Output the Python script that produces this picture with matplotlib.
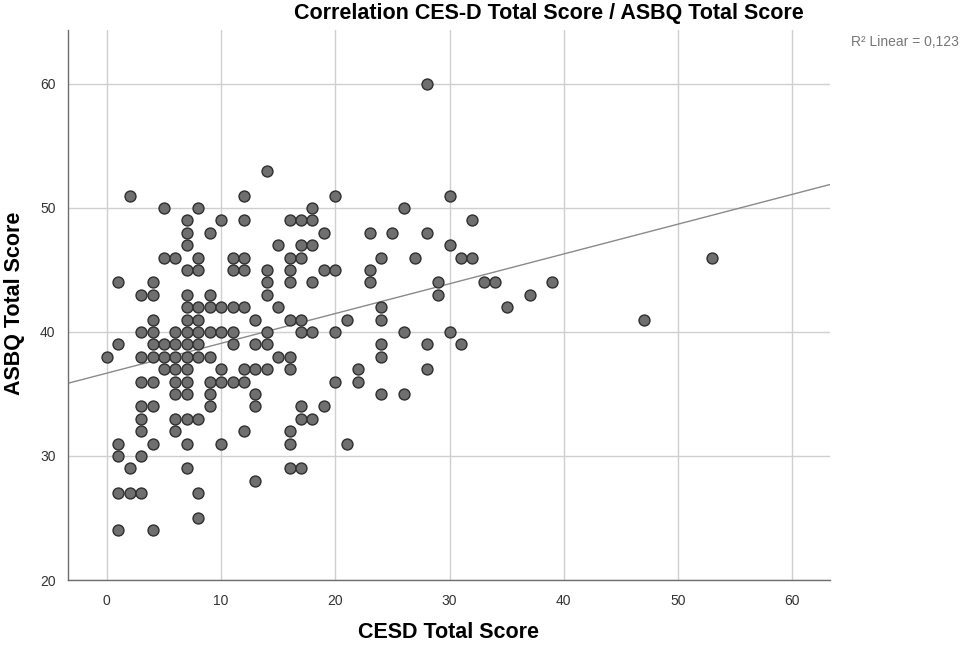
import numpy as np
import matplotlib
matplotlib.use("Agg")
import matplotlib.pyplot as plt

# CES-D total score -> list of ASBQ total scores observed at that score
cesd_groups = {
    0: [38],
    1: [44, 39, 31, 30, 27, 24],
    2: [51, 29, 27],
    3: [43, 40, 38, 36, 34, 33, 32, 30, 27],
    4: [44, 43, 41, 40, 39, 38, 36, 34, 31, 24],
    5: [50, 46, 39, 38, 37],
    6: [46, 40, 39, 38, 37, 36, 35, 33, 32],
    7: [49, 48, 47, 45, 43, 42, 41, 40, 39, 38, 37, 36, 35, 33, 31, 29],
    8: [50, 46, 45, 42, 41, 40, 39, 38, 33, 27, 25],
    9: [48, 43, 42, 40, 38, 36, 35, 34],
    10: [49, 42, 40, 37, 36, 31],
    11: [46, 45, 42, 40, 39, 36],
    12: [51, 49, 46, 45, 42, 37, 36, 32],
    13: [41, 39, 37, 35, 34, 28],
    14: [53, 45, 44, 43, 40, 39, 37],
    15: [47, 42, 38],
    16: [49, 46, 45, 44, 41, 38, 37, 32, 31, 29],
    17: [49, 47, 46, 41, 40, 34, 33, 29],
    18: [50, 49, 47, 44, 40, 33],
    19: [48, 45, 34],
    20: [51, 45, 40, 36],
    21: [41, 31],
    22: [37, 36],
    23: [48, 45, 44],
    24: [46, 42, 41, 39, 38, 35],
    25: [48],
    26: [50, 40, 35],
    27: [46],
    28: [60, 48, 39, 37],
    29: [44, 43],
    30: [51, 47, 40],
    31: [46, 39],
    32: [49, 46],
    33: [44],
    34: [44],
    35: [42],
    37: [43],
    39: [44],
    47: [41],
    53: [46],
}

cesd = np.array([k for k, vals in cesd_groups.items() for _ in vals], dtype=float)
asbq = np.array([v for vals in cesd_groups.values() for v in vals], dtype=float)

x_ticks = [0, 10, 20, 30, 40, 50, 60]
y_ticks = [20, 30, 40, 50, 60]
r2_label = "R\u00b2 Linear = 0,123"

font = ["Liberation Sans", "DejaVu Sans"]

fig = plt.figure(figsize=(9.61, 6.46), dpi=100)
ax = fig.add_axes([68 / 961, 1 - 580 / 646, (830 - 68) / 961, (580 - 30) / 646])

ax.set_xlim(-3.4, 63.3)
ax.set_ylim(20, 64.35)
ax.set_xticks(x_ticks)
ax.set_yticks(y_ticks)
ax.grid(True, color="#cfcfcf", linewidth=1.0)
ax.set_axisbelow(True)

for side in ("top", "right"):
    ax.spines[side].set_visible(False)
for side in ("left", "bottom"):
    ax.spines[side].set_color("#6e6e6e")
    ax.spines[side].set_linewidth(1.0)

ax.tick_params(length=0, labelsize=10, colors="#333333")
ax.tick_params(axis="x", pad=10)
ax.tick_params(axis="y", pad=9)
for lbl in ax.get_xticklabels() + ax.get_yticklabels():
    lbl.set_family(font)

# Least-squares fit line across the full axis width
slope, intercept = np.polyfit(cesd, asbq, 1)
xs = np.array(ax.get_xlim())
ax.plot(xs, intercept + slope * xs, color="#8a8a8a", linewidth=1.0, zorder=2)

ax.scatter(cesd, asbq, s=62, facecolor="#6f6f6f", edgecolor="#2f2f2f",
           linewidth=1.0, zorder=3)

fig.text(449 / 961, 1 - 633 / 646, "CESD Total Score", ha="center", va="center",
         fontsize=15.5, fontweight="bold", family=font)
fig.text(15 / 961, 1 - 303 / 646, "ASBQ Total Score", ha="center", va="center",
         rotation=90, fontsize=15.5, fontweight="bold", family=font)

fig.text(549 / 961, 1 - 13 / 646, "Correlation CES-D Total Score / ASBQ Total Score",
         ha="center", va="center", fontsize=15.5, fontweight="bold", family=font)
fig.text(959 / 961, 1 - 42 / 646, r2_label, ha="right", va="center",
         fontsize=10, color="#777777", family=font)

fig.savefig("out.png", dpi=100)
